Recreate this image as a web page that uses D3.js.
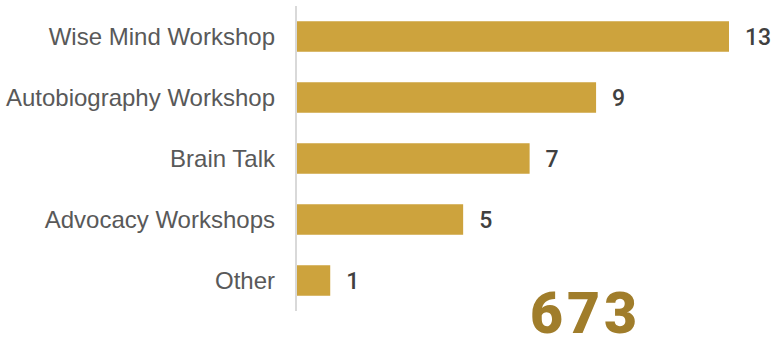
<!DOCTYPE html>
<html>
<head>
<meta charset="utf-8">
<script src="https://cdn.jsdelivr.net/npm/d3@7"></script>
<style>
  body { margin: 0; background: #fff; }
  .cat-label { font-family: Arial, "Liberation Sans", sans-serif; font-size: 24px; fill: #595959; }
  .val-label { font-family: Roboto, sans-serif; font-size: 23px; font-weight: 500; fill: #404040; }
  .big-num { font-family: Roboto, sans-serif; font-weight: 900; font-size: 57px; letter-spacing: 4px; fill: #a07d2b; }
</style>
</head>
<body>
<div class="chart"></div>
<script>
//Data
var categories = ["Wise Mind Workshop", "Autobiography Workshop", "Brain Talk", "Advocacy Workshops", "Other"];
var values = [13, 9, 7, 5, 1];
var totalLabel = "673";

//Canvas dimensions
var width = 773,
    height = 343;

var margin = { top: 6, bottom: 32, left: 297, right: 44 };

var svg = d3.select(".chart")
            .append("svg")
            .attr("width", width)
            .attr("height", height);

//Scales
var x = d3.scaleLinear()
          .domain([0, 13])
          .range([margin.left, 729]);

var y = d3.scaleBand()
          .domain(categories)
          .range([margin.top, height - margin.bottom])
          .paddingInner(0.5)
          .paddingOuter(0.25);

//Bars
svg.selectAll(".bar")
   .data(values)
   .enter()
   .append("rect")
   .attr("class", "bar")
   .attr("x", x(0))
   .attr("y", function(d, i) { return y(categories[i]); })
   .attr("width", function(d) { return x(d) - x(0); })
   .attr("height", y.bandwidth())
   .attr("fill", "#cda33d");

//Axis line
svg.append("line")
   .attr("x1", x(0) - 1)
   .attr("x2", x(0) - 1)
   .attr("y1", margin.top)
   .attr("y2", height - margin.bottom)
   .attr("stroke", "#d9d9d9")
   .attr("stroke-width", 2);

//Category labels
svg.selectAll(".cat-label")
   .data(categories)
   .enter()
   .append("text")
   .attr("class", "cat-label")
   .attr("x", 275)
   .attr("y", function(d) { return y(d) + y.bandwidth() / 2; })
   .attr("dy", "0.35em")
   .attr("text-anchor", "end")
   .text(function(d) { return d; });

//Value labels
svg.selectAll(".val-label")
   .data(values)
   .enter()
   .append("text")
   .attr("class", "val-label")
   .attr("x", function(d) { return x(d) + 16; })
   .attr("y", function(d, i) { return y(categories[i]) + y.bandwidth() / 2; })
   .attr("dy", "0.35em")
   .text(function(d) { return d; });

//Big total
svg.append("text")
   .attr("class", "big-num")
   .attr("x", 530)
   .attr("y", 333)
   .text(totalLabel);
</script>
</body>
</html>
